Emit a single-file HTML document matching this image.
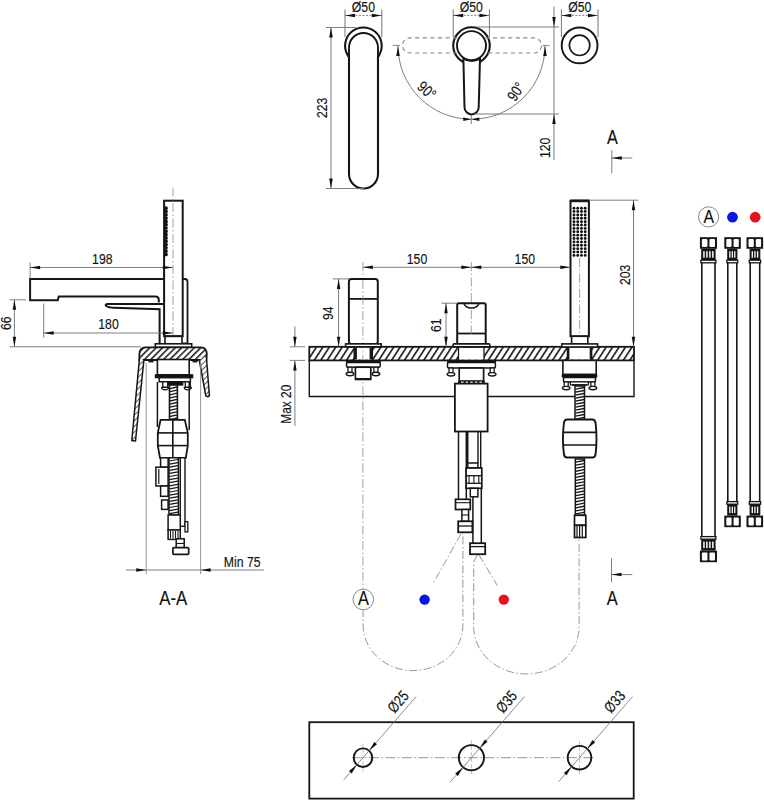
<!DOCTYPE html>
<html><head><meta charset="utf-8"><style>
html,body{margin:0;padding:0;background:#fff;}
svg{display:block;font-family:"Liberation Sans",sans-serif;}
</style></head><body>
<svg width="764" height="800" viewBox="0 0 764 800" fill="none" stroke-linecap="butt">
<defs>
<pattern id="hatch" patternUnits="userSpaceOnUse" width="5.4" height="10" patternTransform="rotate(33)">
<rect width="5.4" height="10" fill="#fff"/><line x1="0.8" y1="0" x2="0.8" y2="10" stroke="#161616" stroke-width="1.6"/>
</pattern>
<pattern id="hatch3" patternUnits="userSpaceOnUse" width="4.5" height="10" patternTransform="rotate(45)">
<rect width="4.5" height="10" fill="#fff"/><line x1="0.8" y1="0" x2="0.8" y2="10" stroke="#161616" stroke-width="1.5"/>
</pattern>
<pattern id="hatch2" patternUnits="userSpaceOnUse" width="4" height="4" patternTransform="rotate(45)">
<rect width="4" height="4" fill="#fff"/><line x1="0" y1="0" x2="0" y2="4" stroke="#161616" stroke-width="1.4"/>
</pattern>
</defs>
<line x1="345" y1="9.5" x2="345" y2="37" stroke="#666" stroke-width="0.9"/>
<line x1="381.8" y1="9.5" x2="381.8" y2="37" stroke="#666" stroke-width="0.9"/>
<line x1="345" y1="15.4" x2="381.8" y2="15.4" stroke="#707070" stroke-width="0.9" stroke-dasharray="2 1.5"/>
<path d="M345 15.4L355 13.65L355 17.15Z" fill="#111"/>
<path d="M381.8 15.4L371.8 17.15L371.8 13.65Z" fill="#111"/>
<text transform="translate(363.4 12) scale(0.79 1)" font-size="15.5" text-anchor="middle" fill="#111" stroke="#111" stroke-width="0.15">Ø50</text>
<line x1="453.2" y1="9.5" x2="453.2" y2="37" stroke="#666" stroke-width="0.9"/>
<line x1="489.4" y1="9.5" x2="489.4" y2="37" stroke="#666" stroke-width="0.9"/>
<line x1="453.2" y1="15.4" x2="489.4" y2="15.4" stroke="#707070" stroke-width="0.9" stroke-dasharray="2 1.5"/>
<path d="M453.2 15.4L463.2 13.65L463.2 17.15Z" fill="#111"/>
<path d="M489.4 15.4L479.4 17.15L479.4 13.65Z" fill="#111"/>
<text transform="translate(471.3 12) scale(0.79 1)" font-size="15.5" text-anchor="middle" fill="#111" stroke="#111" stroke-width="0.15">Ø50</text>
<line x1="561.4" y1="9.5" x2="561.4" y2="37" stroke="#666" stroke-width="0.9"/>
<line x1="598" y1="9.5" x2="598" y2="37" stroke="#666" stroke-width="0.9"/>
<line x1="561.4" y1="15.4" x2="598" y2="15.4" stroke="#707070" stroke-width="0.9" stroke-dasharray="2 1.5"/>
<path d="M561.4 15.4L571.4 13.65L571.4 17.15Z" fill="#111"/>
<path d="M598 15.4L588 17.15L588 13.65Z" fill="#111"/>
<text transform="translate(579.7 12) scale(0.79 1)" font-size="15.5" text-anchor="middle" fill="#111" stroke="#111" stroke-width="0.15">Ø50</text>
<path d="M347.6 55 A18.3 18.3 0 1 1 379.2 55 Q378.5 56.5 378 57 L378 174 A14.5 14.5 0 0 1 349 174 L349 57 Q348.3 56.5 347.6 55 Z" stroke="#161616" stroke-width="2.1" fill="none" />
<path d="M349 57 L349 47.5 A14.5 14.5 0 0 1 378 47.5 L378 57" stroke="#161616" stroke-width="1.9" fill="none" />
<line x1="326" y1="27.5" x2="356" y2="27.5" stroke="#707070" stroke-width="0.9"/>
<line x1="326" y1="188.5" x2="364" y2="188.5" stroke="#707070" stroke-width="0.9"/>
<line x1="331" y1="27.5" x2="331" y2="188.5" stroke="#707070" stroke-width="0.9"/>
<path d="M331 27.5L332.75 37.5L329.25 37.5Z" fill="#111"/>
<path d="M331 188.5L329.25 178.5L332.75 178.5Z" fill="#111"/>
<text transform="translate(326.7 107.8) rotate(-90) scale(0.79 1)" font-size="15.5" text-anchor="middle" fill="#111" stroke="#111" stroke-width="0.15">223</text>
<circle cx="471.5" cy="45.6" r="18.3" stroke="#161616" stroke-width="2.1" fill="none"/>
<circle cx="471.5" cy="45.6" r="14.5" stroke="#161616" stroke-width="1.9" fill="none"/>
<path d="M463.4 58.5 L464.5 107.3 A7.1 7.1 0 0 0 478.7 107.3 L480 58.5 A14.5 14.5 0 0 1 463.4 58.5 Z" stroke="#161616" stroke-width="2.0" fill="#fff" />
<path d="M457.3 37.9 L410 37.9 A7.55 7.55 0 0 0 410 53 L457.3 53" stroke="#8a8a8a" stroke-width="1.1" fill="none" stroke-dasharray="4.2 3.4"/>
<path d="M485.3 37.9 L534 37.9 A7.55 7.55 0 0 1 534 53 L485.3 53" stroke="#8a8a8a" stroke-width="1.1" fill="none" stroke-dasharray="4.2 3.4"/>
<path d="M398 45.8 A73.5 73.5 0 0 0 545 45.8" stroke="#707070" stroke-width="0.9" fill="none" />
<path d="M398 46L399.75 56L396.25 56Z" fill="#111"/>
<path d="M545 46L546.75 56L543.25 56Z" fill="#111"/>
<line x1="392.7" y1="45.4" x2="400" y2="45.4" stroke="#777" stroke-width="0.9"/>
<line x1="542.5" y1="45.4" x2="549.5" y2="45.4" stroke="#777" stroke-width="0.9"/>
<path d="M471.3 119.3L463.3 121.05L463.3 117.55Z" fill="#111"/>
<path d="M471.3 119.3L479.3 117.55L479.3 121.05Z" fill="#111"/>
<line x1="471.3" y1="115" x2="471.3" y2="124" stroke="#707070" stroke-width="0.9"/>
<text transform="translate(423.2 94.3) rotate(42) scale(0.79 1)" font-size="15.5" text-anchor="middle" fill="#111" stroke="#111" stroke-width="0.15">90°</text>
<text transform="translate(520.3 94.5) rotate(-56) scale(0.79 1)" font-size="15.5" text-anchor="middle" fill="#111" stroke="#111" stroke-width="0.15">90°</text>
<line x1="476" y1="27" x2="559" y2="27" stroke="#707070" stroke-width="0.9"/>
<line x1="474" y1="114" x2="559" y2="114" stroke="#707070" stroke-width="0.9"/>
<line x1="554" y1="6.5" x2="554" y2="160" stroke="#707070" stroke-width="0.9"/>
<path d="M554 27L552.25 17L555.75 17Z" fill="#111"/>
<path d="M554 114L555.75 124L552.25 124Z" fill="#111"/>
<text transform="translate(549.5 147.9) rotate(-90) scale(0.79 1)" font-size="15.5" text-anchor="middle" fill="#111" stroke="#111" stroke-width="0.15">120</text>
<circle cx="579.6" cy="45.4" r="17.9" stroke="#161616" stroke-width="1.9" fill="none"/>
<circle cx="579.6" cy="45.3" r="10.2" stroke="#161616" stroke-width="1.7" fill="none"/>
<text transform="translate(612.5 143.8) scale(0.8 1)" font-size="20.3" text-anchor="middle" fill="#111" stroke="#111" stroke-width="0.15">A</text>
<line x1="611.8" y1="150" x2="611.8" y2="173.3" stroke="#707070" stroke-width="0.9"/>
<line x1="611.8" y1="158" x2="632.3" y2="158" stroke="#707070" stroke-width="0.9"/>
<path d="M611.8 158L621.8 156.25L621.8 159.75Z" fill="#111"/>
<rect x="164.1" y="200.7" width="18.6" height="135.5" stroke="#161616" stroke-width="2.0" fill="#fff"/>
<circle cx="166" cy="208.2" r="1.85" stroke="none" stroke-width="0" fill="#111"/>
<circle cx="166" cy="211.5" r="1.85" stroke="none" stroke-width="0" fill="#111"/>
<circle cx="166" cy="214.8" r="1.85" stroke="none" stroke-width="0" fill="#111"/>
<circle cx="166" cy="218.1" r="1.85" stroke="none" stroke-width="0" fill="#111"/>
<circle cx="166" cy="221.4" r="1.85" stroke="none" stroke-width="0" fill="#111"/>
<circle cx="166" cy="224.7" r="1.85" stroke="none" stroke-width="0" fill="#111"/>
<circle cx="166" cy="228" r="1.85" stroke="none" stroke-width="0" fill="#111"/>
<circle cx="166" cy="231.3" r="1.85" stroke="none" stroke-width="0" fill="#111"/>
<circle cx="166" cy="234.6" r="1.85" stroke="none" stroke-width="0" fill="#111"/>
<circle cx="166" cy="237.9" r="1.85" stroke="none" stroke-width="0" fill="#111"/>
<circle cx="166" cy="241.2" r="1.85" stroke="none" stroke-width="0" fill="#111"/>
<circle cx="166" cy="244.5" r="1.85" stroke="none" stroke-width="0" fill="#111"/>
<circle cx="166" cy="247.8" r="1.85" stroke="none" stroke-width="0" fill="#111"/>
<circle cx="166" cy="251.1" r="1.85" stroke="none" stroke-width="0" fill="#111"/>
<circle cx="166" cy="254.4" r="1.85" stroke="none" stroke-width="0" fill="#111"/>
<line x1="173" y1="187.5" x2="173" y2="336" stroke="#8a8a8a" stroke-width="0.8" stroke-dasharray="9 2.5 1.5 2.5"/>
<path d="M182.6 279 L185 279 Q187.5 279 187.5 282 L187.5 343.5 L182.6 343.5" stroke="#161616" stroke-width="1.8" fill="none" />
<rect x="165" y="336.2" width="17" height="7.8" stroke="#161616" stroke-width="1.6" fill="none"/>
<rect x="155.3" y="343.8" width="36.4" height="3.6" stroke="#161616" stroke-width="1.6" fill="#fff"/>
<path d="M164 279 L30.1 279 L30.1 300.2 L57.7 300.2 L58.8 296.4 L155.5 296.4 Q158.5 296.4 158.8 299.5 L158.8 302.5" stroke="#161616" stroke-width="2.0" fill="none" />
<path d="M164 304 L108 304 Q104.3 304.2 106.3 306 Q108.5 307.6 114 307.8 L159.6 309.3 L159.6 343.8" stroke="#161616" stroke-width="2.0" fill="none" />
<line x1="30.1" y1="262.5" x2="30.1" y2="279" stroke="#707070" stroke-width="0.9"/>
<line x1="30.1" y1="267.5" x2="172.8" y2="267.5" stroke="#707070" stroke-width="0.9"/>
<path d="M30.1 267.5L40.1 265.75L40.1 269.25Z" fill="#111"/>
<path d="M172.8 267.5L162.8 269.25L162.8 265.75Z" fill="#111"/>
<text transform="translate(102.3 264.1) scale(0.79 1)" font-size="15.5" text-anchor="middle" fill="#111" stroke="#111" stroke-width="0.15">198</text>
<line x1="43.7" y1="303.5" x2="43.7" y2="337.5" stroke="#707070" stroke-width="0.9"/>
<line x1="43.7" y1="333" x2="172.8" y2="333" stroke="#707070" stroke-width="0.9"/>
<path d="M43.7 333L53.7 331.25L53.7 334.75Z" fill="#111"/>
<path d="M172.8 333L162.8 334.75L162.8 331.25Z" fill="#111"/>
<text transform="translate(108.5 329.2) scale(0.79 1)" font-size="15.5" text-anchor="middle" fill="#111" stroke="#111" stroke-width="0.15">180</text>
<line x1="9.6" y1="299.8" x2="26" y2="299.8" stroke="#707070" stroke-width="0.9"/>
<line x1="9.6" y1="346.8" x2="141" y2="346.8" stroke="#707070" stroke-width="0.9"/>
<line x1="14.4" y1="299.8" x2="14.4" y2="346.8" stroke="#707070" stroke-width="0.9"/>
<path d="M14.4 299.8L16.15 309.8L12.65 309.8Z" fill="#111"/>
<path d="M14.4 346.8L12.65 336.8L16.15 336.8Z" fill="#111"/>
<text transform="translate(10.8 323.15) rotate(-90) scale(0.79 1)" font-size="15.5" text-anchor="middle" fill="#111" stroke="#111" stroke-width="0.15">66</text>
<path d="M145.5 347.4 L201 347.4 Q206.5 347.6 206.8 354 L206.3 360 L199.2 360 L143.8 360 L139.4 360 L139.4 354 Q139.8 347.6 145.5 347.4 Z" stroke="#161616" stroke-width="1.8" fill="url(#hatch3)" />
<path d="M139.7 356 L131.8 440.5 L135.5 441 L143.8 361" stroke="#161616" stroke-width="1.5" fill="url(#hatch2)" />
<path d="M206.3 356 L209.4 395.5 Q208 397.5 205.8 396 L199.4 360.5" stroke="#161616" stroke-width="1.5" fill="url(#hatch2)" />
<line x1="148.5" y1="361.3" x2="153.5" y2="361.3" stroke="#161616" stroke-width="2.2"/>
<line x1="192.5" y1="361.3" x2="197.5" y2="361.3" stroke="#161616" stroke-width="2.2"/>
<rect x="157.4" y="359.5" width="31.8" height="15.3" stroke="#161616" stroke-width="1.6" fill="#fff"/>
<rect x="155.4" y="374.8" width="37.3" height="2.9" stroke="#161616" stroke-width="1.2" fill="#111"/>
<rect x="159.2" y="377.7" width="31.2" height="4.1" stroke="#161616" stroke-width="1.5" fill="#fff"/>
<rect x="162.7" y="381.8" width="5" height="5.5" stroke="#161616" stroke-width="1.3" fill="#fff"/>
<path d="M161.7 387.3 L168.7 387.3 Q168.7 389.8 165.2 389.8 Q161.7 389.8 161.7 387.3 Z" stroke="#161616" stroke-width="1.3" fill="#fff" />
<rect x="185.3" y="381.8" width="5" height="5.5" stroke="#161616" stroke-width="1.3" fill="#fff"/>
<path d="M184.3 387.3 L191.3 387.3 Q191.3 389.8 187.8 389.8 Q184.3 389.8 184.3 387.3 Z" stroke="#161616" stroke-width="1.3" fill="#fff" />
<rect x="168.6" y="381.8" width="14.1" height="3.2" stroke="#161616" stroke-width="1.3" fill="#111"/>
<rect x="169.5" y="385" width="7.9" height="34.5" stroke="#161616" stroke-width="1.6" fill="#fff"/>
<line x1="170" y1="388.6" x2="177" y2="387" stroke="#161616" stroke-width="1.3"/>
<line x1="170" y1="391.7" x2="177" y2="390.1" stroke="#161616" stroke-width="1.3"/>
<line x1="170" y1="394.8" x2="177" y2="393.2" stroke="#161616" stroke-width="1.3"/>
<line x1="170" y1="397.9" x2="177" y2="396.3" stroke="#161616" stroke-width="1.3"/>
<line x1="170" y1="401" x2="177" y2="399.4" stroke="#161616" stroke-width="1.3"/>
<line x1="170" y1="404.1" x2="177" y2="402.5" stroke="#161616" stroke-width="1.3"/>
<line x1="170" y1="407.2" x2="177" y2="405.6" stroke="#161616" stroke-width="1.3"/>
<line x1="170" y1="410.3" x2="177" y2="408.7" stroke="#161616" stroke-width="1.3"/>
<line x1="170" y1="413.4" x2="177" y2="411.8" stroke="#161616" stroke-width="1.3"/>
<line x1="170" y1="416.5" x2="177" y2="414.9" stroke="#161616" stroke-width="1.3"/>
<line x1="170" y1="419.6" x2="177" y2="418" stroke="#161616" stroke-width="1.3"/>
<line x1="157.4" y1="382" x2="157.4" y2="427" stroke="#161616" stroke-width="1.5"/>
<line x1="189.2" y1="382" x2="189.2" y2="430" stroke="#161616" stroke-width="1.5"/>
<line x1="146.2" y1="363" x2="146.2" y2="574" stroke="#888" stroke-width="0.9"/>
<line x1="200.6" y1="363" x2="200.6" y2="574" stroke="#888" stroke-width="0.9"/>
<path d="M160.6 419.8 L184.8 419.8 L187.8 432.9 L187.8 445.6 L185.8 457.8 L160 457.8 L157.8 445.6 L157.8 432.9 Z" stroke="#161616" stroke-width="1.8" fill="#fff" />
<line x1="157.8" y1="432.9" x2="187.8" y2="432.9" stroke="#161616" stroke-width="1.6"/>
<line x1="157.8" y1="445.6" x2="187.8" y2="445.6" stroke="#161616" stroke-width="1.6"/>
<line x1="172.8" y1="419.4" x2="172.8" y2="457.8" stroke="#161616" stroke-width="1.6"/>
<rect x="160.6" y="457.8" width="7.5" height="9.4" stroke="#161616" stroke-width="1.5" fill="#fff"/>
<rect x="155.9" y="467.2" width="12.2" height="18.8" stroke="#161616" stroke-width="1.5" fill="#fff"/>
<line x1="158.8" y1="469" x2="158.8" y2="484" stroke="#161616" stroke-width="1.2"/>
<rect x="160.6" y="486" width="7.5" height="10.3" stroke="#161616" stroke-width="1.5" fill="#fff"/>
<rect x="161.6" y="500" width="6.5" height="9.4" stroke="#161616" stroke-width="1.5" fill="#fff"/>
<rect x="169" y="457.8" width="9.4" height="57.2" stroke="#161616" stroke-width="1.5" fill="#fff"/>
<line x1="169.5" y1="461" x2="178" y2="459.5" stroke="#161616" stroke-width="1.2"/>
<line x1="169.5" y1="464.1" x2="178" y2="462.6" stroke="#161616" stroke-width="1.2"/>
<line x1="169.5" y1="467.2" x2="178" y2="465.7" stroke="#161616" stroke-width="1.2"/>
<line x1="169.5" y1="470.3" x2="178" y2="468.8" stroke="#161616" stroke-width="1.2"/>
<line x1="169.5" y1="473.4" x2="178" y2="471.9" stroke="#161616" stroke-width="1.2"/>
<line x1="169.5" y1="476.5" x2="178" y2="475" stroke="#161616" stroke-width="1.2"/>
<line x1="169.5" y1="479.6" x2="178" y2="478.1" stroke="#161616" stroke-width="1.2"/>
<line x1="169.5" y1="482.7" x2="178" y2="481.2" stroke="#161616" stroke-width="1.2"/>
<line x1="169.5" y1="485.8" x2="178" y2="484.3" stroke="#161616" stroke-width="1.2"/>
<line x1="169.5" y1="488.9" x2="178" y2="487.4" stroke="#161616" stroke-width="1.2"/>
<line x1="169.5" y1="492" x2="178" y2="490.5" stroke="#161616" stroke-width="1.2"/>
<line x1="169.5" y1="495.1" x2="178" y2="493.6" stroke="#161616" stroke-width="1.2"/>
<line x1="169.5" y1="498.2" x2="178" y2="496.7" stroke="#161616" stroke-width="1.2"/>
<line x1="169.5" y1="501.3" x2="178" y2="499.8" stroke="#161616" stroke-width="1.2"/>
<line x1="169.5" y1="504.4" x2="178" y2="502.9" stroke="#161616" stroke-width="1.2"/>
<line x1="169.5" y1="507.5" x2="178" y2="506" stroke="#161616" stroke-width="1.2"/>
<line x1="169.5" y1="510.6" x2="178" y2="509.1" stroke="#161616" stroke-width="1.2"/>
<line x1="169.5" y1="513.7" x2="178" y2="512.2" stroke="#161616" stroke-width="1.2"/>
<rect x="180.3" y="457.8" width="4.7" height="68.5" stroke="#161616" stroke-width="1.4" fill="#fff"/>
<rect x="185" y="521.6" width="2.8" height="10.3" stroke="#161616" stroke-width="1.3" fill="#fff"/>
<rect x="168.1" y="515" width="12.2" height="15" stroke="#161616" stroke-width="1.5" fill="#fff"/>
<rect x="168.1" y="530" width="12.2" height="9.4" stroke="#161616" stroke-width="1.5" fill="#fff"/>
<line x1="170.5" y1="531" x2="170.5" y2="538.5" stroke="#161616" stroke-width="1.1"/>
<line x1="173" y1="531" x2="173" y2="538.5" stroke="#161616" stroke-width="1.1"/>
<line x1="175.5" y1="531" x2="175.5" y2="538.5" stroke="#161616" stroke-width="1.1"/>
<line x1="178" y1="531" x2="178" y2="538.5" stroke="#161616" stroke-width="1.1"/>
<rect x="176.2" y="538.8" width="8" height="8.9" stroke="#161616" stroke-width="1.5" fill="#fff"/>
<line x1="176.2" y1="543.5" x2="184.2" y2="543.5" stroke="#161616" stroke-width="1.1"/>
<rect x="172.9" y="547.7" width="15.8" height="6.6" stroke="#161616" stroke-width="1.7" fill="#fff" rx="1"/>
<line x1="126" y1="570" x2="263.8" y2="570" stroke="#707070" stroke-width="0.9"/>
<path d="M146.2 570L136.2 571.75L136.2 568.25Z" fill="#111"/>
<path d="M200.6 570L210.6 568.25L210.6 571.75Z" fill="#111"/>
<text transform="translate(242.2 566.9) scale(0.79 1)" font-size="15.5" text-anchor="middle" fill="#111" stroke="#111" stroke-width="0.15">Min 75</text>
<text transform="translate(173.3 605.2) scale(0.86 1)" font-size="19.6" text-anchor="middle" fill="#111" stroke="#111" stroke-width="0.15">A-A</text>
<rect x="309.3" y="346.8" width="324.7" height="13.6" stroke="#161616" stroke-width="1.8" fill="url(#hatch)"/>
<path d="M309.3 360.4 L309.3 396.5 L634 396.5 L634 360.4" stroke="#161616" stroke-width="1.4" fill="none" />
<rect x="354.1" y="347.7" width="18.3" height="11.8" stroke="#161616" stroke-width="0" fill="#fff"/>
<rect x="354.1" y="347.7" width="2.8" height="11.8" fill="#161616"/>
<rect x="369.6" y="347.7" width="2.8" height="11.8" fill="#161616"/>
<line x1="354.1" y1="346.8" x2="354.1" y2="360.4" stroke="#161616" stroke-width="1.3"/>
<line x1="372.4" y1="346.8" x2="372.4" y2="360.4" stroke="#161616" stroke-width="1.3"/>
<rect x="458.5" y="347.7" width="25.5" height="11.8" stroke="#161616" stroke-width="0" fill="#fff"/>
<line x1="458.5" y1="346.8" x2="458.5" y2="360.4" stroke="#161616" stroke-width="1.3"/>
<line x1="484" y1="346.8" x2="484" y2="360.4" stroke="#161616" stroke-width="1.3"/>
<rect x="567.4" y="347.7" width="24.3" height="11.8" stroke="#161616" stroke-width="0" fill="#fff"/>
<rect x="567.4" y="347.7" width="2.0" height="11.8" fill="#161616"/>
<rect x="589.7" y="347.7" width="2.0" height="11.8" fill="#161616"/>
<line x1="567.4" y1="346.8" x2="567.4" y2="360.4" stroke="#161616" stroke-width="1.3"/>
<line x1="591.7" y1="346.8" x2="591.7" y2="360.4" stroke="#161616" stroke-width="1.3"/>
<line x1="362.9" y1="262" x2="362.9" y2="589" stroke="#8a8a8a" stroke-width="0.8" stroke-dasharray="9 2.5 1.5 2.5"/>
<line x1="471.3" y1="262" x2="471.3" y2="302" stroke="#8a8a8a" stroke-width="0.8" stroke-dasharray="9 2.5 1.5 2.5"/>
<rect x="348.9" y="278.9" width="28.9" height="65" stroke="#161616" stroke-width="2.0" fill="#fff" rx="2.5"/>
<line x1="348.9" y1="298.9" x2="377.8" y2="298.9" stroke="#161616" stroke-width="1.8"/>
<line x1="362.9" y1="280" x2="362.9" y2="343" stroke="#8a8a8a" stroke-width="0.8" stroke-dasharray="9 2.5 1.5 2.5"/>
<rect x="345.6" y="343.9" width="35.6" height="2.9" stroke="#161616" stroke-width="1.6" fill="#fff"/>
<rect x="346.5" y="360.4" width="33.7" height="2.2" stroke="#161616" stroke-width="1.0" fill="#111"/>
<rect x="346.5" y="362.6" width="33.7" height="4.6" stroke="#161616" stroke-width="1.5" fill="#fff" rx="1.2"/>
<rect x="348" y="367.2" width="4" height="5.3" stroke="#161616" stroke-width="1.3" fill="#fff"/>
<ellipse cx="350" cy="374" rx="3.8" ry="1.7" fill="#fff" stroke="#161616" stroke-width="1.4"/>
<rect x="373.9" y="367.2" width="4" height="5.3" stroke="#161616" stroke-width="1.3" fill="#fff"/>
<ellipse cx="375.9" cy="374" rx="3.8" ry="1.7" fill="#fff" stroke="#161616" stroke-width="1.4"/>
<rect x="355.4" y="367.2" width="15.4" height="12.1" stroke="#161616" stroke-width="1.7" fill="#fff"/>
<line x1="355.4" y1="379.1" x2="370.8" y2="379.1" stroke="#161616" stroke-width="2.2"/>
<path d="M457.2 343.9 L457.2 305 Q457.2 303.2 459 303.2 L483.9 303.2 Q485.7 303.2 485.7 305 L485.7 343.9" stroke="#161616" stroke-width="2.0" fill="#fff" />
<path d="M464.1 303.2 A7.35 4.8 0 0 0 478.8 303.2" stroke="#161616" stroke-width="1.7" fill="none" />
<line x1="457.2" y1="333.5" x2="485.7" y2="333.5" stroke="#161616" stroke-width="1.8"/>
<line x1="471.3" y1="310" x2="471.3" y2="334" stroke="#8a8a8a" stroke-width="0.8" stroke-dasharray="9 2.5 1.5 2.5"/>
<rect x="453.1" y="343.9" width="36.7" height="3" stroke="#161616" stroke-width="1.6" fill="#fff" rx="1"/>
<rect x="447.5" y="360.4" width="47.9" height="2.2" stroke="#161616" stroke-width="1.0" fill="#111"/>
<rect x="447.5" y="362.6" width="47.9" height="5.4" stroke="#161616" stroke-width="1.5" fill="#fff" rx="1.2"/>
<rect x="449" y="368" width="4" height="4.8" stroke="#161616" stroke-width="1.3" fill="#fff"/>
<ellipse cx="451" cy="374.3" rx="3.8" ry="1.7" fill="#fff" stroke="#161616" stroke-width="1.4"/>
<rect x="490.2" y="368" width="4" height="4.8" stroke="#161616" stroke-width="1.3" fill="#fff"/>
<ellipse cx="492.2" cy="374.3" rx="3.8" ry="1.7" fill="#fff" stroke="#161616" stroke-width="1.4"/>
<rect x="459.2" y="368" width="24.4" height="13.2" stroke="#161616" stroke-width="1.7" fill="#fff"/>
<rect x="458.9" y="381.2" width="25.1" height="2.4" stroke="#161616" stroke-width="1.4" fill="#111"/>
<rect x="461" y="381.6" width="2.6" height="1.4" stroke="#161616" stroke-width="0" fill="#fff"/>
<rect x="465.6" y="381.6" width="2.6" height="1.4" stroke="#161616" stroke-width="0" fill="#fff"/>
<rect x="470.2" y="381.6" width="2.6" height="1.4" stroke="#161616" stroke-width="0" fill="#fff"/>
<rect x="474.8" y="381.6" width="2.6" height="1.4" stroke="#161616" stroke-width="0" fill="#fff"/>
<rect x="479.4" y="381.6" width="2.6" height="1.4" stroke="#161616" stroke-width="0" fill="#fff"/>
<rect x="454.9" y="383.6" width="32.7" height="47.9" stroke="#161616" stroke-width="1.8" fill="#fff"/>
<line x1="458.5" y1="431.5" x2="458.5" y2="499.3" stroke="#161616" stroke-width="1.5"/>
<line x1="466.3" y1="431.5" x2="466.3" y2="499.3" stroke="#161616" stroke-width="1.5"/>
<line x1="467.6" y1="431.5" x2="467.6" y2="463" stroke="#161616" stroke-width="1.8"/>
<line x1="478" y1="431.5" x2="478" y2="463" stroke="#161616" stroke-width="1.4"/>
<line x1="480.7" y1="431.5" x2="480.7" y2="468" stroke="#161616" stroke-width="1.4"/>
<line x1="472.9" y1="496.8" x2="472.9" y2="543.2" stroke="#161616" stroke-width="1.5"/>
<line x1="481.3" y1="488" x2="481.3" y2="543.2" stroke="#161616" stroke-width="1.5"/>
<rect x="467.8" y="463" width="10.1" height="5" stroke="#161616" stroke-width="1.5" fill="#fff"/>
<rect x="466.1" y="468" width="15.7" height="20.3" stroke="#161616" stroke-width="1.7" fill="#fff"/>
<line x1="466.1" y1="475.7" x2="481.8" y2="475.7" stroke="#161616" stroke-width="1.3"/>
<line x1="466.1" y1="483.3" x2="481.8" y2="483.3" stroke="#161616" stroke-width="1.3"/>
<line x1="469" y1="475.7" x2="469" y2="483.3" stroke="#161616" stroke-width="1.1"/>
<line x1="473.9" y1="475.7" x2="473.9" y2="483.3" stroke="#161616" stroke-width="1.1"/>
<line x1="478.8" y1="475.7" x2="478.8" y2="483.3" stroke="#161616" stroke-width="1.1"/>
<rect x="470.3" y="488.3" width="7.6" height="8.5" stroke="#161616" stroke-width="1.5" fill="#fff"/>
<rect x="455.5" y="499.3" width="14.8" height="10.2" stroke="#161616" stroke-width="1.7" fill="#fff"/>
<line x1="455.5" y1="502.7" x2="470.3" y2="502.7" stroke="#161616" stroke-width="1.1"/>
<rect x="461.9" y="509.5" width="6.7" height="11.8" stroke="#161616" stroke-width="1.5" fill="#fff"/>
<line x1="461.9" y1="515" x2="468.6" y2="515" stroke="#161616" stroke-width="1.1"/>
<rect x="458.2" y="521.3" width="14.2" height="11" stroke="#161616" stroke-width="1.8" fill="#fff"/>
<line x1="458.2" y1="526" x2="472.4" y2="526" stroke="#161616" stroke-width="1.3"/>
<rect x="470" y="543.2" width="15.2" height="11" stroke="#161616" stroke-width="1.8" fill="#fff"/>
<line x1="470" y1="546.6" x2="485.2" y2="546.6" stroke="#161616" stroke-width="1.3"/>
<path d="M363.1 609 L363.1 625 A49.9 45.6 0 0 0 462.9 625 L462.9 533" stroke="#8a8a8a" stroke-width="0.9" fill="none" stroke-dasharray="8 2.5 1.5 2.5"/>
<path d="M477.3 555 L473.7 562 L473.7 627 A52.7 47 0 0 0 579.1 627 L579.1 537.5" stroke="#8a8a8a" stroke-width="0.9" fill="none" stroke-dasharray="8 2.5 1.5 2.5"/>
<line x1="461" y1="534" x2="432.5" y2="584.5" stroke="#8a8a8a" stroke-width="0.9" stroke-dasharray="8 2.5 1.5 2.5"/>
<line x1="479" y1="555" x2="497.3" y2="585.5" stroke="#8a8a8a" stroke-width="0.9" stroke-dasharray="8 2.5 1.5 2.5"/>
<circle cx="363.3" cy="599.5" r="10.3" stroke="#888" stroke-width="1.0" fill="#fff"/>
<text transform="translate(363.5 605.4) scale(0.82 1)" font-size="20" text-anchor="middle" fill="#111" stroke="#111" stroke-width="0.15">A</text>
<circle cx="424.6" cy="599.6" r="5.2" stroke="none" stroke-width="0" fill="#0a14e6"/>
<circle cx="503.8" cy="599.6" r="5.2" stroke="none" stroke-width="0" fill="#e3141b"/>
<line x1="611.5" y1="558.4" x2="611.5" y2="582" stroke="#707070" stroke-width="0.9"/>
<line x1="611.5" y1="574.6" x2="632.3" y2="574.6" stroke="#707070" stroke-width="0.9"/>
<path d="M611.5 574.6L621.5 572.85L621.5 576.35Z" fill="#111"/>
<text transform="translate(612.3 604.7) scale(0.82 1)" font-size="20" text-anchor="middle" fill="#111" stroke="#111" stroke-width="0.15">A</text>
<rect x="570.5" y="200.7" width="18.4" height="135.6" stroke="#161616" stroke-width="2.0" fill="#fff"/>
<line x1="570.5" y1="200.9" x2="588.9" y2="200.9" stroke="#161616" stroke-width="2.6"/>
<circle cx="574" cy="208.2" r="1.45" stroke="none" stroke-width="0" fill="#111"/>
<circle cx="577.73" cy="208.2" r="1.45" stroke="none" stroke-width="0" fill="#111"/>
<circle cx="581.46" cy="208.2" r="1.45" stroke="none" stroke-width="0" fill="#111"/>
<circle cx="585.19" cy="208.2" r="1.45" stroke="none" stroke-width="0" fill="#111"/>
<circle cx="574" cy="211.57" r="1.45" stroke="none" stroke-width="0" fill="#111"/>
<circle cx="577.73" cy="211.57" r="1.45" stroke="none" stroke-width="0" fill="#111"/>
<circle cx="581.46" cy="211.57" r="1.45" stroke="none" stroke-width="0" fill="#111"/>
<circle cx="585.19" cy="211.57" r="1.45" stroke="none" stroke-width="0" fill="#111"/>
<circle cx="574" cy="214.94" r="1.45" stroke="none" stroke-width="0" fill="#111"/>
<circle cx="577.73" cy="214.94" r="1.45" stroke="none" stroke-width="0" fill="#111"/>
<circle cx="581.46" cy="214.94" r="1.45" stroke="none" stroke-width="0" fill="#111"/>
<circle cx="585.19" cy="214.94" r="1.45" stroke="none" stroke-width="0" fill="#111"/>
<circle cx="574" cy="218.31" r="1.45" stroke="none" stroke-width="0" fill="#111"/>
<circle cx="577.73" cy="218.31" r="1.45" stroke="none" stroke-width="0" fill="#111"/>
<circle cx="581.46" cy="218.31" r="1.45" stroke="none" stroke-width="0" fill="#111"/>
<circle cx="585.19" cy="218.31" r="1.45" stroke="none" stroke-width="0" fill="#111"/>
<circle cx="574" cy="221.68" r="1.45" stroke="none" stroke-width="0" fill="#111"/>
<circle cx="577.73" cy="221.68" r="1.45" stroke="none" stroke-width="0" fill="#111"/>
<circle cx="581.46" cy="221.68" r="1.45" stroke="none" stroke-width="0" fill="#111"/>
<circle cx="585.19" cy="221.68" r="1.45" stroke="none" stroke-width="0" fill="#111"/>
<circle cx="574" cy="225.05" r="1.45" stroke="none" stroke-width="0" fill="#111"/>
<circle cx="577.73" cy="225.05" r="1.45" stroke="none" stroke-width="0" fill="#111"/>
<circle cx="581.46" cy="225.05" r="1.45" stroke="none" stroke-width="0" fill="#111"/>
<circle cx="585.19" cy="225.05" r="1.45" stroke="none" stroke-width="0" fill="#111"/>
<circle cx="574" cy="228.42" r="1.45" stroke="none" stroke-width="0" fill="#111"/>
<circle cx="577.73" cy="228.42" r="1.45" stroke="none" stroke-width="0" fill="#111"/>
<circle cx="581.46" cy="228.42" r="1.45" stroke="none" stroke-width="0" fill="#111"/>
<circle cx="585.19" cy="228.42" r="1.45" stroke="none" stroke-width="0" fill="#111"/>
<circle cx="574" cy="231.79" r="1.45" stroke="none" stroke-width="0" fill="#111"/>
<circle cx="577.73" cy="231.79" r="1.45" stroke="none" stroke-width="0" fill="#111"/>
<circle cx="581.46" cy="231.79" r="1.45" stroke="none" stroke-width="0" fill="#111"/>
<circle cx="585.19" cy="231.79" r="1.45" stroke="none" stroke-width="0" fill="#111"/>
<circle cx="574" cy="235.16" r="1.45" stroke="none" stroke-width="0" fill="#111"/>
<circle cx="577.73" cy="235.16" r="1.45" stroke="none" stroke-width="0" fill="#111"/>
<circle cx="581.46" cy="235.16" r="1.45" stroke="none" stroke-width="0" fill="#111"/>
<circle cx="585.19" cy="235.16" r="1.45" stroke="none" stroke-width="0" fill="#111"/>
<circle cx="574" cy="238.53" r="1.45" stroke="none" stroke-width="0" fill="#111"/>
<circle cx="577.73" cy="238.53" r="1.45" stroke="none" stroke-width="0" fill="#111"/>
<circle cx="581.46" cy="238.53" r="1.45" stroke="none" stroke-width="0" fill="#111"/>
<circle cx="585.19" cy="238.53" r="1.45" stroke="none" stroke-width="0" fill="#111"/>
<circle cx="574" cy="241.9" r="1.45" stroke="none" stroke-width="0" fill="#111"/>
<circle cx="577.73" cy="241.9" r="1.45" stroke="none" stroke-width="0" fill="#111"/>
<circle cx="581.46" cy="241.9" r="1.45" stroke="none" stroke-width="0" fill="#111"/>
<circle cx="585.19" cy="241.9" r="1.45" stroke="none" stroke-width="0" fill="#111"/>
<circle cx="574" cy="245.27" r="1.45" stroke="none" stroke-width="0" fill="#111"/>
<circle cx="577.73" cy="245.27" r="1.45" stroke="none" stroke-width="0" fill="#111"/>
<circle cx="581.46" cy="245.27" r="1.45" stroke="none" stroke-width="0" fill="#111"/>
<circle cx="585.19" cy="245.27" r="1.45" stroke="none" stroke-width="0" fill="#111"/>
<circle cx="574" cy="248.64" r="1.45" stroke="none" stroke-width="0" fill="#111"/>
<circle cx="577.73" cy="248.64" r="1.45" stroke="none" stroke-width="0" fill="#111"/>
<circle cx="581.46" cy="248.64" r="1.45" stroke="none" stroke-width="0" fill="#111"/>
<circle cx="585.19" cy="248.64" r="1.45" stroke="none" stroke-width="0" fill="#111"/>
<circle cx="574" cy="252.01" r="1.45" stroke="none" stroke-width="0" fill="#111"/>
<circle cx="577.73" cy="252.01" r="1.45" stroke="none" stroke-width="0" fill="#111"/>
<circle cx="581.46" cy="252.01" r="1.45" stroke="none" stroke-width="0" fill="#111"/>
<circle cx="585.19" cy="252.01" r="1.45" stroke="none" stroke-width="0" fill="#111"/>
<circle cx="574" cy="255.38" r="1.45" stroke="none" stroke-width="0" fill="#111"/>
<circle cx="577.73" cy="255.38" r="1.45" stroke="none" stroke-width="0" fill="#111"/>
<circle cx="581.46" cy="255.38" r="1.45" stroke="none" stroke-width="0" fill="#111"/>
<circle cx="585.19" cy="255.38" r="1.45" stroke="none" stroke-width="0" fill="#111"/>
<line x1="579.6" y1="258" x2="579.6" y2="336" stroke="#8a8a8a" stroke-width="0.8" stroke-dasharray="9 2.5 1.5 2.5"/>
<rect x="571.6" y="336.3" width="16.2" height="7.6" stroke="#161616" stroke-width="1.6" fill="#fff"/>
<rect x="561.8" y="343.9" width="35.8" height="3.1" stroke="#161616" stroke-width="1.6" fill="#fff"/>
<rect x="562.9" y="360.4" width="33.3" height="14" stroke="#161616" stroke-width="1.6" fill="#fff"/>
<rect x="562" y="374.4" width="35" height="3" stroke="#161616" stroke-width="1.0" fill="#111" rx="1.2"/>
<rect x="563.5" y="377.4" width="32" height="4.5" stroke="#161616" stroke-width="1.5" fill="#fff" rx="1.2"/>
<rect x="564.2" y="381.9" width="4" height="4.7" stroke="#161616" stroke-width="1.3" fill="#fff"/>
<ellipse cx="566.2" cy="388.1" rx="3.8" ry="1.7" fill="#fff" stroke="#161616" stroke-width="1.4"/>
<rect x="590.9" y="381.9" width="4" height="4.7" stroke="#161616" stroke-width="1.3" fill="#fff"/>
<ellipse cx="592.9" cy="388.1" rx="3.8" ry="1.7" fill="#fff" stroke="#161616" stroke-width="1.4"/>
<rect x="570.4" y="381.9" width="18" height="3" stroke="#161616" stroke-width="1.2" fill="#fff"/>
<line x1="572" y1="385" x2="587" y2="385" stroke="#161616" stroke-width="1.6"/>
<rect x="575" y="386" width="9.5" height="34" stroke="#161616" stroke-width="1.5" fill="#fff"/>
<line x1="575.5" y1="389.1" x2="584" y2="387.5" stroke="#161616" stroke-width="1.3"/>
<line x1="575.5" y1="392.1" x2="584" y2="390.5" stroke="#161616" stroke-width="1.3"/>
<line x1="575.5" y1="395.1" x2="584" y2="393.5" stroke="#161616" stroke-width="1.3"/>
<line x1="575.5" y1="398.1" x2="584" y2="396.5" stroke="#161616" stroke-width="1.3"/>
<line x1="575.5" y1="401.1" x2="584" y2="399.5" stroke="#161616" stroke-width="1.3"/>
<line x1="575.5" y1="404.1" x2="584" y2="402.5" stroke="#161616" stroke-width="1.3"/>
<line x1="575.5" y1="407.1" x2="584" y2="405.5" stroke="#161616" stroke-width="1.3"/>
<line x1="575.5" y1="410.1" x2="584" y2="408.5" stroke="#161616" stroke-width="1.3"/>
<line x1="575.5" y1="413.1" x2="584" y2="411.5" stroke="#161616" stroke-width="1.3"/>
<line x1="575.5" y1="416.1" x2="584" y2="414.5" stroke="#161616" stroke-width="1.3"/>
<line x1="575.5" y1="419.1" x2="584" y2="417.5" stroke="#161616" stroke-width="1.3"/>
<path d="M567 419.5 L592.5 419.5 Q595 419.5 595.6 423 Q597.4 439 595.6 454 Q595 457.5 592.5 457.5 L567 457.5 Q564.5 457.5 563.9 454 Q562 439 563.9 423 Q564.5 419.5 567 419.5 Z" stroke="#161616" stroke-width="1.9" fill="#fff" />
<line x1="563.5" y1="432.3" x2="596" y2="432.3" stroke="#161616" stroke-width="1.7"/>
<line x1="563.5" y1="445" x2="596" y2="445" stroke="#161616" stroke-width="1.7"/>
<rect x="575.3" y="459" width="9.2" height="56.3" stroke="#161616" stroke-width="1.5" fill="#fff"/>
<line x1="575.8" y1="462.1" x2="584" y2="460.5" stroke="#161616" stroke-width="1.3"/>
<line x1="575.8" y1="465.15" x2="584" y2="463.55" stroke="#161616" stroke-width="1.3"/>
<line x1="575.8" y1="468.2" x2="584" y2="466.6" stroke="#161616" stroke-width="1.3"/>
<line x1="575.8" y1="471.25" x2="584" y2="469.65" stroke="#161616" stroke-width="1.3"/>
<line x1="575.8" y1="474.3" x2="584" y2="472.7" stroke="#161616" stroke-width="1.3"/>
<line x1="575.8" y1="477.35" x2="584" y2="475.75" stroke="#161616" stroke-width="1.3"/>
<line x1="575.8" y1="480.4" x2="584" y2="478.8" stroke="#161616" stroke-width="1.3"/>
<line x1="575.8" y1="483.45" x2="584" y2="481.85" stroke="#161616" stroke-width="1.3"/>
<line x1="575.8" y1="486.5" x2="584" y2="484.9" stroke="#161616" stroke-width="1.3"/>
<line x1="575.8" y1="489.55" x2="584" y2="487.95" stroke="#161616" stroke-width="1.3"/>
<line x1="575.8" y1="492.6" x2="584" y2="491" stroke="#161616" stroke-width="1.3"/>
<line x1="575.8" y1="495.65" x2="584" y2="494.05" stroke="#161616" stroke-width="1.3"/>
<line x1="575.8" y1="498.7" x2="584" y2="497.1" stroke="#161616" stroke-width="1.3"/>
<line x1="575.8" y1="501.75" x2="584" y2="500.15" stroke="#161616" stroke-width="1.3"/>
<line x1="575.8" y1="504.8" x2="584" y2="503.2" stroke="#161616" stroke-width="1.3"/>
<line x1="575.8" y1="507.85" x2="584" y2="506.25" stroke="#161616" stroke-width="1.3"/>
<line x1="575.8" y1="510.9" x2="584" y2="509.3" stroke="#161616" stroke-width="1.3"/>
<line x1="575.8" y1="513.95" x2="584" y2="512.35" stroke="#161616" stroke-width="1.3"/>
<rect x="574.5" y="515.3" width="11.3" height="10" stroke="#161616" stroke-width="1.7" fill="#fff"/>
<rect x="574.5" y="525.3" width="11.3" height="12.2" stroke="#161616" stroke-width="1.7" fill="#fff"/>
<line x1="577" y1="526" x2="577" y2="537" stroke="#161616" stroke-width="1.2"/>
<line x1="579.6" y1="526" x2="579.6" y2="537" stroke="#161616" stroke-width="1.2"/>
<line x1="582.3" y1="526" x2="582.3" y2="537" stroke="#161616" stroke-width="1.2"/>
<line x1="362.9" y1="267.3" x2="570.3" y2="267.3" stroke="#707070" stroke-width="0.9"/>
<path d="M362.9 267.3L372.9 265.55L372.9 269.05Z" fill="#111"/>
<path d="M471.3 267.3L461.3 269.05L461.3 265.55Z" fill="#111"/>
<path d="M471.3 267.3L481.3 265.55L481.3 269.05Z" fill="#111"/>
<path d="M570.3 267.3L560.3 269.05L560.3 265.55Z" fill="#111"/>
<text transform="translate(417 264.2) scale(0.79 1)" font-size="15.5" text-anchor="middle" fill="#111" stroke="#111" stroke-width="0.15">150</text>
<text transform="translate(524.8 264.2) scale(0.79 1)" font-size="15.5" text-anchor="middle" fill="#111" stroke="#111" stroke-width="0.15">150</text>
<line x1="332.8" y1="278.9" x2="349" y2="278.9" stroke="#707070" stroke-width="0.9"/>
<line x1="338.6" y1="278.9" x2="338.6" y2="346.8" stroke="#707070" stroke-width="0.9"/>
<path d="M338.6 278.9L340.35 288.9L336.85 288.9Z" fill="#111"/>
<path d="M338.6 346.8L336.85 336.8L340.35 336.8Z" fill="#111"/>
<text transform="translate(333.4 313.2) rotate(-90) scale(0.79 1)" font-size="15.5" text-anchor="middle" fill="#111" stroke="#111" stroke-width="0.15">94</text>
<line x1="441.5" y1="303.2" x2="457.3" y2="303.2" stroke="#707070" stroke-width="0.9"/>
<line x1="446" y1="303.2" x2="446" y2="346.8" stroke="#707070" stroke-width="0.9"/>
<path d="M446 303.2L447.75 313.2L444.25 313.2Z" fill="#111"/>
<path d="M446 346.8L444.25 336.8L447.75 336.8Z" fill="#111"/>
<text transform="translate(441.1 325.3) rotate(-90) scale(0.79 1)" font-size="15.5" text-anchor="middle" fill="#111" stroke="#111" stroke-width="0.15">61</text>
<line x1="589.2" y1="200.2" x2="638.2" y2="200.2" stroke="#707070" stroke-width="0.9"/>
<line x1="633.5" y1="200.2" x2="633.5" y2="346.8" stroke="#707070" stroke-width="0.9"/>
<path d="M633.5 200.2L635.25 210.2L631.75 210.2Z" fill="#111"/>
<path d="M633.5 346.8L631.75 336.8L635.25 336.8Z" fill="#111"/>
<text transform="translate(629.6 274.9) rotate(-90) scale(0.79 1)" font-size="15.5" text-anchor="middle" fill="#111" stroke="#111" stroke-width="0.15">203</text>
<line x1="289.9" y1="346.8" x2="305" y2="346.8" stroke="#777" stroke-width="0.9"/>
<line x1="289.9" y1="360.4" x2="305" y2="360.4" stroke="#777" stroke-width="0.9"/>
<line x1="294.9" y1="326.4" x2="294.9" y2="346.8" stroke="#707070" stroke-width="0.9"/>
<line x1="294.9" y1="360.4" x2="294.9" y2="426" stroke="#707070" stroke-width="0.9"/>
<path d="M294.9 346.8L293.15 336.8L296.65 336.8Z" fill="#111"/>
<path d="M294.9 360.4L296.65 370.4L293.15 370.4Z" fill="#111"/>
<text transform="translate(291.4 404.2) rotate(-90) scale(0.77 1)" font-size="15.5" text-anchor="middle" fill="#111" stroke="#111" stroke-width="0.15">Max 20</text>
<circle cx="708.6" cy="216.9" r="10.1" stroke="#888" stroke-width="1.0" fill="#fff"/>
<text transform="translate(708.8 223) scale(0.88 1)" font-size="18" text-anchor="middle" fill="#111" stroke="#111" stroke-width="0.15">A</text>
<circle cx="732.5" cy="217.2" r="5.4" stroke="none" stroke-width="0" fill="#0a14e6"/>
<circle cx="755.2" cy="217.2" r="5.4" stroke="none" stroke-width="0" fill="#e3141b"/>
<rect x="699.9" y="237.2" width="17.1" height="11.6" stroke="#161616" stroke-width="0" fill="#151515"/>
<rect x="701.9" y="239" width="5.55" height="8" stroke="#161616" stroke-width="0" fill="#fff" rx="1"/>
<rect x="709.45" y="239" width="5.55" height="8" stroke="#161616" stroke-width="0" fill="#fff" rx="1"/>
<rect x="701.2" y="248.8" width="14.4" height="11.4" stroke="#161616" stroke-width="0" fill="#151515"/>
<rect x="703.2" y="251.2" width="1.49" height="6.5" stroke="#161616" stroke-width="0" fill="#fff"/>
<rect x="706.17" y="251.2" width="1.49" height="6.5" stroke="#161616" stroke-width="0" fill="#fff"/>
<rect x="709.14" y="251.2" width="1.49" height="6.5" stroke="#161616" stroke-width="0" fill="#fff"/>
<rect x="712.11" y="251.2" width="1.49" height="6.5" stroke="#161616" stroke-width="0" fill="#fff"/>
<rect x="700.9" y="260.2" width="15" height="2.6" stroke="#161616" stroke-width="1.3" fill="#fff"/>
<line x1="701.8" y1="262.8" x2="701.8" y2="536.6" stroke="#161616" stroke-width="1.6"/>
<line x1="715" y1="262.8" x2="715" y2="536.6" stroke="#161616" stroke-width="1.6"/>
<rect x="700.9" y="536.6" width="15" height="2.6" stroke="#161616" stroke-width="1.3" fill="#fff"/>
<rect x="701.2" y="539.2" width="14.4" height="11.4" stroke="#161616" stroke-width="0" fill="#151515"/>
<rect x="703.2" y="541.6" width="1.49" height="6.5" stroke="#161616" stroke-width="0" fill="#fff"/>
<rect x="706.17" y="541.6" width="1.49" height="6.5" stroke="#161616" stroke-width="0" fill="#fff"/>
<rect x="709.14" y="541.6" width="1.49" height="6.5" stroke="#161616" stroke-width="0" fill="#fff"/>
<rect x="712.11" y="541.6" width="1.49" height="6.5" stroke="#161616" stroke-width="0" fill="#fff"/>
<rect x="699.9" y="550.6" width="17.1" height="11.6" stroke="#161616" stroke-width="0" fill="#151515"/>
<rect x="701.9" y="552.4" width="5.55" height="8" stroke="#161616" stroke-width="0" fill="#fff" rx="1"/>
<rect x="709.45" y="552.4" width="5.55" height="8" stroke="#161616" stroke-width="0" fill="#fff" rx="1"/>
<rect x="724.3" y="237.2" width="16.5" height="11.6" stroke="#161616" stroke-width="0" fill="#151515"/>
<rect x="726.3" y="239" width="5.25" height="8" stroke="#161616" stroke-width="0" fill="#fff" rx="1"/>
<rect x="733.55" y="239" width="5.25" height="8" stroke="#161616" stroke-width="0" fill="#fff" rx="1"/>
<rect x="727.2" y="248.8" width="10.2" height="11.4" stroke="#161616" stroke-width="0" fill="#151515"/>
<rect x="729.2" y="251.2" width="1.24" height="6.5" stroke="#161616" stroke-width="0" fill="#fff"/>
<rect x="731.68" y="251.2" width="1.24" height="6.5" stroke="#161616" stroke-width="0" fill="#fff"/>
<rect x="734.16" y="251.2" width="1.24" height="6.5" stroke="#161616" stroke-width="0" fill="#fff"/>
<rect x="726.9" y="260.2" width="10.8" height="2.6" stroke="#161616" stroke-width="1.3" fill="#fff"/>
<line x1="727.8" y1="262.8" x2="727.8" y2="501.6" stroke="#161616" stroke-width="1.6"/>
<line x1="736.8" y1="262.8" x2="736.8" y2="501.6" stroke="#161616" stroke-width="1.6"/>
<rect x="726.9" y="501.6" width="10.8" height="2.6" stroke="#161616" stroke-width="1.3" fill="#fff"/>
<rect x="727.2" y="504.2" width="10.2" height="11.4" stroke="#161616" stroke-width="0" fill="#151515"/>
<rect x="729.2" y="506.6" width="1.24" height="6.5" stroke="#161616" stroke-width="0" fill="#fff"/>
<rect x="731.68" y="506.6" width="1.24" height="6.5" stroke="#161616" stroke-width="0" fill="#fff"/>
<rect x="734.16" y="506.6" width="1.24" height="6.5" stroke="#161616" stroke-width="0" fill="#fff"/>
<rect x="724.3" y="515.6" width="16.5" height="11.6" stroke="#161616" stroke-width="0" fill="#151515"/>
<rect x="726.3" y="517.4" width="5.25" height="8" stroke="#161616" stroke-width="0" fill="#fff" rx="1"/>
<rect x="733.55" y="517.4" width="5.25" height="8" stroke="#161616" stroke-width="0" fill="#fff" rx="1"/>
<rect x="746.5" y="237.2" width="16.6" height="11.6" stroke="#161616" stroke-width="0" fill="#151515"/>
<rect x="748.5" y="239" width="5.3" height="8" stroke="#161616" stroke-width="0" fill="#fff" rx="1"/>
<rect x="755.8" y="239" width="5.3" height="8" stroke="#161616" stroke-width="0" fill="#fff" rx="1"/>
<rect x="749.6" y="248.8" width="10.7" height="11.4" stroke="#161616" stroke-width="0" fill="#151515"/>
<rect x="751.6" y="251.2" width="1.34" height="6.5" stroke="#161616" stroke-width="0" fill="#fff"/>
<rect x="754.28" y="251.2" width="1.34" height="6.5" stroke="#161616" stroke-width="0" fill="#fff"/>
<rect x="756.96" y="251.2" width="1.34" height="6.5" stroke="#161616" stroke-width="0" fill="#fff"/>
<rect x="749.3" y="260.2" width="11.3" height="2.6" stroke="#161616" stroke-width="1.3" fill="#fff"/>
<line x1="750.2" y1="262.8" x2="750.2" y2="501.6" stroke="#161616" stroke-width="1.6"/>
<line x1="759.7" y1="262.8" x2="759.7" y2="501.6" stroke="#161616" stroke-width="1.6"/>
<rect x="749.3" y="501.6" width="11.3" height="2.6" stroke="#161616" stroke-width="1.3" fill="#fff"/>
<rect x="749.6" y="504.2" width="10.7" height="11.4" stroke="#161616" stroke-width="0" fill="#151515"/>
<rect x="751.6" y="506.6" width="1.34" height="6.5" stroke="#161616" stroke-width="0" fill="#fff"/>
<rect x="754.28" y="506.6" width="1.34" height="6.5" stroke="#161616" stroke-width="0" fill="#fff"/>
<rect x="756.96" y="506.6" width="1.34" height="6.5" stroke="#161616" stroke-width="0" fill="#fff"/>
<rect x="746.5" y="515.6" width="16.6" height="11.6" stroke="#161616" stroke-width="0" fill="#151515"/>
<rect x="748.5" y="517.4" width="5.3" height="8" stroke="#161616" stroke-width="0" fill="#fff" rx="1"/>
<rect x="755.8" y="517.4" width="5.3" height="8" stroke="#161616" stroke-width="0" fill="#fff" rx="1"/>
<rect x="309.3" y="722.2" width="324.4" height="76.4" stroke="#161616" stroke-width="1.8" fill="none"/>
<line x1="352.4" y1="757.7" x2="594.5" y2="757.7" stroke="#8a8a8a" stroke-width="0.9" stroke-dasharray="10 2.5 1.5 2.5"/>
<line x1="363" y1="743.4" x2="363" y2="772" stroke="#aaa" stroke-width="0.7" stroke-dasharray="4 2"/>
<circle cx="363" cy="757.7" r="9.3" stroke="#161616" stroke-width="1.9" fill="none"/>
<line x1="343.78" y1="779.81" x2="416.14" y2="696.57" stroke="#707070" stroke-width="0.8"/>
<path d="M356.9 764.72L351.66 773.41L349.02 771.12Z" fill="#111"/>
<path d="M369.1 750.68L374.34 741.99L376.98 744.28Z" fill="#111"/>
<text transform="translate(402.1 705.2) rotate(-49) scale(0.79 1)" font-size="15.5" text-anchor="middle" fill="#111" stroke="#111" stroke-width="0.15">Ø25</text>
<line x1="471.4" y1="740.1" x2="471.4" y2="775.3" stroke="#aaa" stroke-width="0.7" stroke-dasharray="4 2"/>
<circle cx="471.4" cy="757.7" r="12.6" stroke="#161616" stroke-width="1.9" fill="none"/>
<line x1="450.01" y1="782.3" x2="524.54" y2="696.57" stroke="#707070" stroke-width="0.8"/>
<path d="M463.13 767.21L457.89 775.9L455.25 773.61Z" fill="#111"/>
<path d="M479.67 748.19L484.91 739.5L487.55 741.79Z" fill="#111"/>
<text transform="translate(510.5 705.2) rotate(-49) scale(0.79 1)" font-size="15.5" text-anchor="middle" fill="#111" stroke="#111" stroke-width="0.15">Ø35</text>
<line x1="579.5" y1="740.9" x2="579.5" y2="774.5" stroke="#aaa" stroke-width="0.7" stroke-dasharray="4 2"/>
<circle cx="579.5" cy="757.7" r="11.8" stroke="#161616" stroke-width="1.9" fill="none"/>
<line x1="558.64" y1="781.7" x2="632.64" y2="696.57" stroke="#707070" stroke-width="0.8"/>
<path d="M571.76 766.61L566.52 775.3L563.88 773Z" fill="#111"/>
<path d="M587.24 748.79L592.48 740.1L595.12 742.4Z" fill="#111"/>
<text transform="translate(618.6 705.2) rotate(-49) scale(0.79 1)" font-size="15.5" text-anchor="middle" fill="#111" stroke="#111" stroke-width="0.15">Ø33</text>
</svg>
</body></html>
